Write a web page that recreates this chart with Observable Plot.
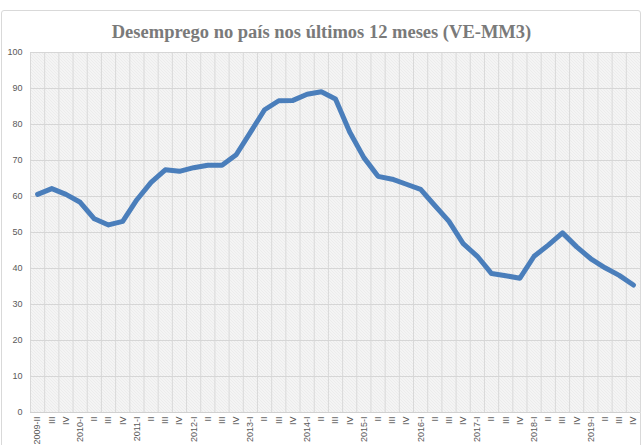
<!DOCTYPE html>
<html><head><meta charset="utf-8">
<script src="https://cdn.jsdelivr.net/npm/d3@7"></script>
<script src="https://cdn.jsdelivr.net/npm/@observablehq/plot@0.6"></script>
<style>
html,body{margin:0;padding:0;background:#fff}
body{width:643px;height:445px;overflow:hidden;position:relative;font-family:"Liberation Sans Narrow","Liberation Sans",sans-serif}
#box{position:absolute;left:1px;top:10px;width:640px;height:450px;border:1px solid #d9d9d9;border-radius:3px;box-sizing:border-box}
#title{position:absolute;top:0;left:0;width:643px;height:44px;box-sizing:border-box;padding-top:21px;line-height:22px;text-align:center;font-family:"Liberation Serif",serif;font-weight:bold;font-size:18.5px;color:#7a7a7a;}
#chart{position:absolute;top:44px;left:0}
</style></head>
<body>
<div id="box"></div>
<div id="title">Desemprego no país nos últimos 12 meses (VE-MM3)</div>
<div id="chart"></div>
<script>
const quarters = ["2009-II","III","IV",
  "2010-I","II","III","IV",
  "2011-I","II","III","IV",
  "2012-I","II","III","IV",
  "2013-I","II","III","IV",
  "2014-I","II","III","IV",
  "2015-I","II","III","IV",
  "2016-I","II","III","IV",
  "2017-I","II","III","IV",
  "2018-I","II","III","IV",
  "2019-I","II","III","IV"];
const values = [60.6, 62.2, 60.6, 58.4, 53.8, 52.1, 53.1, 59.1, 63.9, 67.4,
  67.0, 68.0, 68.7, 68.7, 71.6, 77.8, 84.1, 86.6, 86.7, 88.4,
  89.1, 87.1, 77.9, 70.8, 65.6, 64.8, 63.4, 62.0, 57.5, 53.1,
  46.9, 43.4, 38.6, 38.0, 37.3, 43.4, 46.5, 49.9, 46.0, 42.7,
  40.2, 38.1, 35.4];
const yTicks = [0,10,20,30,40,50,60,70,80,90,100];

const data = quarters.map((q, i) => ({i, q, v: values[i]}));
const bounds = d3.range(quarters.length + 1).map(i => i - 0.5);

const plot = Plot.plot({
  width: 643,
  height: 401,
  marginTop: 8,
  marginBottom: 33,
  marginLeft: 30,
  marginRight: 3,
  style: {fontFamily: '"Liberation Sans Narrow","Liberation Sans",sans-serif', fontSize: "9px", color: "#595959", background: "transparent", overflow: "visible"},
  x: {type: "linear", domain: [-0.5, quarters.length - 0.5], ticks: d3.range(quarters.length),
      tickFormat: i => quarters[i], tickRotate: -90, tickSize: 0, tickPadding: 4, label: null},
  y: {domain: [0, 100], ticks: yTicks, tickSize: 0, tickPadding: 8, label: null},
  marks: [
    Plot.frame({fill: "url(#hatch)", stroke: null}),
    Plot.ruleX(bounds, {stroke: "#d9d9d9", strokeWidth: 1}),
    Plot.ruleY(yTicks, {stroke: "#d6d6d6", strokeWidth: 1}),
    Plot.ruleY([0], {stroke: "#d0d0d0", strokeWidth: 1}),
    Plot.line(data, {x: "i", y: "v", stroke: "#4a7ebb", strokeWidth: 5, strokeLinejoin: "round", strokeLinecap: "round"})
  ]
});

const ns = "http://www.w3.org/2000/svg";
const defs = document.createElementNS(ns, "defs");
const pat = document.createElementNS(ns, "pattern");
pat.setAttribute("id", "hatch");
pat.setAttribute("patternUnits", "userSpaceOnUse");
pat.setAttribute("width", "3");
pat.setAttribute("height", "3");
const bg = document.createElementNS(ns, "rect");
bg.setAttribute("width", "3"); bg.setAttribute("height", "3"); bg.setAttribute("fill", "#fbfbfb");
pat.appendChild(bg);
const ln = document.createElementNS(ns, "path");
ln.setAttribute("d", "M-1,-1 L4,4 M-1,2 L1,4 M2,-1 L4,1");
ln.setAttribute("stroke", "#d6d6d6");
ln.setAttribute("stroke-width", "0.8");
pat.appendChild(ln);
defs.appendChild(pat);
plot.insertBefore(defs, plot.firstChild);
plot.querySelectorAll("text").forEach(t => t.setAttribute("fill", "#595959"));
document.getElementById("chart").appendChild(plot);
</script>
</body></html>
